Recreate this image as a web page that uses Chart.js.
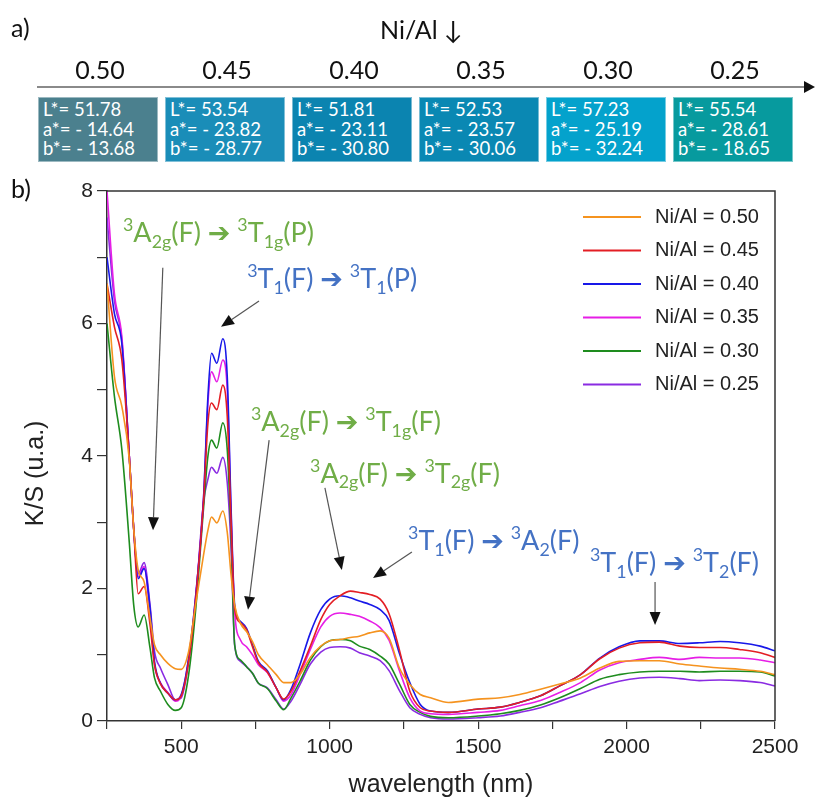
<!DOCTYPE html>
<html>
<head>
<meta charset="utf-8">
<script src="https://cdn.jsdelivr.net/npm/chart.js@4.4.1/dist/chart.umd.min.js"></script>
<style>
  body { margin: 0; background: #fff; width: 815px; height: 805px; position: relative; overflow: hidden; font-family: Lato, sans-serif; }
  #cv { position: absolute; left: 0; top: 0; }
  .t { position: absolute; color: #111; white-space: nowrap; }
  .ratio { position: absolute; top: 54px; width: 120px; text-align: center; font-size: 25px; color: #111; }
  .box { position: absolute; top: 97px; width: 120px; height: 65px; box-sizing: border-box; padding: 2px 0 0 4px;
         color: #fff; font-size: 18.5px; line-height: 19.5px; border: 1px solid rgba(255,255,255,.45); white-space: nowrap; }
  #axl { position: absolute; left: 37px; top: 86px; width: 770px; height: 2px; background: #8a8a8a; }
  #axh { position: absolute; left: 804px; top: 81px; width: 0; height: 0; border-left: 11px solid #111;
         border-top: 6px solid transparent; border-bottom: 6px solid transparent; }
</style>
</head>
<body>
<canvas id="cv" width="815" height="805"></canvas>
<div id="panelA">
  <div class="t" style="left:11px;top:12px;font-size:25px">a)</div>
  <div class="t" style="left:380px;top:14px;font-size:25px">Ni/Al ↓</div>
  <div id="axl"></div><div id="axh"></div>
  <div class="t" style="left:11px;top:173px;font-size:25px">b)</div>
</div>
<script>
/* ---- datos: espectros K/S vs longitud de onda ---- */
const wl = [250, 275, 300, 325, 340, 355, 375, 395, 410, 430, 455, 480, 500, 525, 550, 575, 590, 602, 620, 640,
  655, 668, 680, 700, 720, 740, 760, 790, 820, 845, 870, 900, 935, 970, 1000, 1035, 1070, 1100, 1135, 1170,
  1200, 1235, 1270, 1305, 1340, 1400, 1500, 1575, 1640, 1710, 1775, 1845, 1910, 1975, 2045, 2110, 2180, 2245,
  2315, 2380, 2450, 2500];

const ks050 = [6.6, 5.2, 4.75, 3.95, 2.9, 2.28, 2.1, 1.55, 1.15, 1.0, 0.87, 0.79, 0.78, 1.05, 1.8, 2.5, 2.88, 3.08, 2.99, 3.17,
  2.85, 2.2, 1.75, 1.47, 1.35, 1.2, 1.0, 0.85, 0.7, 0.58, 0.58, 0.7, 0.96, 1.13, 1.21, 1.23, 1.26, 1.28, 1.33, 1.36,
  1.25, 0.8, 0.55, 0.4, 0.35, 0.28, 0.33, 0.35, 0.4, 0.48, 0.56, 0.65, 0.8, 0.9, 0.91, 0.91, 0.86, 0.83, 0.8, 0.78, 0.75, 0.7];
const ks045 = [6.6, 5.95, 5.45, 4.0, 2.9, 1.92, 2.03, 1.45, 0.85, 0.56, 0.42, 0.32, 0.38, 0.9, 1.9, 3.3, 4.5, 4.8, 4.7, 5.07,
  4.6, 3.0, 1.7, 1.48, 1.38, 1.12, 0.88, 0.74, 0.5, 0.33, 0.45, 0.75, 1.13, 1.53, 1.76, 1.89, 1.96, 1.94, 1.91, 1.84,
  1.62, 1.07, 0.45, 0.2, 0.15, 0.13, 0.18, 0.21, 0.28, 0.38, 0.53, 0.7, 0.94, 1.1, 1.18, 1.19, 1.13, 1.11, 1.11, 1.08, 1.03, 0.96];
const ks040 = [7.0, 6.15, 5.7, 4.0, 2.9, 2.15, 2.3, 1.7, 0.9, 0.57, 0.42, 0.32, 0.4, 0.95, 1.95, 3.35, 4.9, 5.55, 5.4, 5.77,
  5.2, 3.2, 1.75, 1.5, 1.4, 1.15, 0.9, 0.76, 0.5, 0.32, 0.48, 0.85, 1.33, 1.68, 1.84, 1.89, 1.86, 1.81, 1.76, 1.68,
  1.52, 1.02, 0.58, 0.25, 0.15, 0.13, 0.18, 0.21, 0.28, 0.38, 0.53, 0.7, 0.95, 1.12, 1.21, 1.21, 1.17, 1.18, 1.2, 1.18, 1.13, 1.06];
const ks035 = [8.0, 6.45, 5.8, 4.0, 2.9, 2.18, 2.33, 1.6, 0.85, 0.58, 0.43, 0.3, 0.38, 0.95, 1.95, 3.35, 4.8, 5.27, 5.12, 5.45,
  5.0, 3.1, 1.65, 1.22, 1.12, 1.0, 0.85, 0.73, 0.5, 0.3, 0.4, 0.7, 1.08, 1.42, 1.58, 1.63, 1.61, 1.58, 1.51, 1.41,
  1.22, 0.76, 0.35, 0.15, 0.11, 0.1, 0.13, 0.16, 0.23, 0.31, 0.43, 0.58, 0.77, 0.88, 0.93, 0.96, 0.93, 0.96, 0.95, 0.95, 0.92, 0.88];
const ks030 = [6.0, 4.9, 4.1, 2.7, 1.75, 1.42, 1.6, 1.1, 0.65, 0.45, 0.25, 0.16, 0.2, 0.7, 1.75, 3.2, 4.0, 4.24, 4.12, 4.5,
  4.1, 2.8, 1.15, 0.92, 0.82, 0.72, 0.57, 0.49, 0.3, 0.17, 0.35, 0.6, 0.92, 1.12, 1.21, 1.23, 1.21, 1.13, 1.08, 0.98,
  0.86, 0.56, 0.25, 0.13, 0.07, 0.05, 0.075, 0.11, 0.16, 0.24, 0.35, 0.49, 0.63, 0.7, 0.74, 0.75, 0.75, 0.74, 0.75, 0.75, 0.74, 0.68];
const ks025 = [7.6, 6.35, 5.75, 4.0, 2.9, 2.22, 2.39, 1.75, 1.05, 0.8, 0.55, 0.32, 0.35, 0.9, 1.9, 3.3, 3.65, 3.83, 3.74, 3.98,
  3.6, 2.6, 1.15, 0.9, 0.82, 0.72, 0.57, 0.5, 0.32, 0.18, 0.3, 0.55, 0.86, 1.04, 1.11, 1.12, 1.1, 1.03, 0.98, 0.91,
  0.76, 0.46, 0.2, 0.1, 0.05, 0.03, 0.05, 0.075, 0.13, 0.2, 0.3, 0.41, 0.52, 0.6, 0.65, 0.66, 0.64, 0.61, 0.62, 0.61, 0.58, 0.53];

const seriesLabels = ['Ni/Al = 0.50', 'Ni/Al = 0.45', 'Ni/Al = 0.40', 'Ni/Al = 0.35', 'Ni/Al = 0.30', 'Ni/Al = 0.25'];
const seriesColors = ['#f5931f', '#e31e24', '#1818e8', '#e61ee6', '#1e8c1e', '#8a2be2'];
const xTickLabels = [500, 1000, 1500, 2000, 2500];
const yTickLabels = [0, 2, 4, 6, 8];

/* panel a) colorimetría */
const ratioLabels = ['0.50', '0.45', '0.40', '0.35', '0.30', '0.25'];
const Lstar = [51.78, 53.54, 51.81, 52.53, 57.23, 55.54];
const aStar = [-14.64, -23.82, -23.11, -23.57, -25.19, -28.61];
const bStar = [-13.68, -28.77, -30.80, -30.06, -32.24, -18.65];
const boxColors = ['#4b808e', '#1a8db8', '#0b84b0', '#0a88b3', '#04a2cc', '#079a9e'];

const GREEN = '#70ad47', BLUE = '#4472c4';
/* transiciones: texto, posición (nm, K/S), flecha desde → hasta */
const notes = [
  { txt: '^3A_{2g}(F) ➔ ^3T_{1g}(P)', at: [304, 7.23], c: GREEN, from: [438, 6.84], to: [405, 2.88] },
  { txt: '^3T_{1}(F) ➔ ^3T_{1}(P)',   at: [722, 6.54], c: BLUE,  from: [762, 6.34], to: [634, 5.95] },
  { txt: '^3A_{2g}(F) ➔ ^3T_{1g}(F)', at: [735, 4.38], c: GREEN, from: [796, 4.24], to: [725, 1.68] },
  { txt: '^3A_{2g}(F) ➔ ^3T_{2g}(F)', at: [934, 3.60], c: GREEN, from: [984, 3.52], to: [1041, 2.28] },
  { txt: '^3T_{1}(F) ➔ ^3A_{2}(F)',   at: [1264, 2.58], c: BLUE, from: [1277, 2.55], to: [1146, 2.16] },
  { txt: '^3T_{1}(F) ➔ ^3T_{2}(F)',   at: [1877, 2.25], c: BLUE, from: [2096, 2.10], to: [2096, 1.45] },
];

/* ---- panel a) ---- */
const pa = document.getElementById('panelA');
ratioLabels.forEach((r, i) => {
  const left = 38 + i * 127;
  pa.insertAdjacentHTML('beforeend',
    `<div class="ratio" style="left:${left + 2}px">${r}</div>` +
    `<div class="box" style="left:${left}px;background:${boxColors[i]}">L*= ${Lstar[i].toFixed(2)}<br>` +
    `a*= - ${Math.abs(aStar[i]).toFixed(2)}<br>b*= - ${Math.abs(bStar[i]).toFixed(2)}</div>`);
});

/* texto con super/subíndices: ^x  y  _{..} */
function richText(ctx, x, y, txt, size, color) {
  const re = /\^(.)|_\{([^}]*)\}|([^^_]+)/g;
  let m, cx = x;
  ctx.fillStyle = color; ctx.textBaseline = 'alphabetic'; ctx.textAlign = 'left';
  while ((m = re.exec(txt))) {
    let t = m[3], s = size, dy = 0;
    if (m[1]) { t = m[1]; s = size * 0.66; dy = -size * 0.4; }
    if (m[2]) { t = m[2]; s = size * 0.66; dy = size * 0.22; }
    ctx.font = `${s}px Lato, "DejaVu Sans", sans-serif`;
    ctx.fillText(t, cx, y + dy);
    cx += ctx.measureText(t).width;
  }
}
function arrow(ctx, x1, y1, x2, y2) {
  const ang = Math.atan2(y2 - y1, x2 - x1), L = 13, W = 5.5;
  const bx = x2 - L * Math.cos(ang), by = y2 - L * Math.sin(ang);
  ctx.strokeStyle = '#555'; ctx.lineWidth = 1.2;
  ctx.beginPath(); ctx.moveTo(x1, y1); ctx.lineTo(bx, by); ctx.stroke();
  ctx.fillStyle = '#111';
  ctx.beginPath(); ctx.moveTo(x2, y2);
  ctx.lineTo(bx + W * Math.sin(ang), by - W * Math.cos(ang));
  ctx.lineTo(bx - W * Math.sin(ang), by + W * Math.cos(ang));
  ctx.closePath(); ctx.fill();
}

const extras = {
  id: 'extras',
  afterDatasetsDraw(ch) {
    const { ctx, chartArea: a, scales: { x, y } } = ch;
    ctx.save();
    ctx.strokeStyle = '#333'; ctx.lineWidth = 1.5;
    ctx.beginPath(); ctx.moveTo(a.left, a.top); ctx.lineTo(a.right, a.top); ctx.lineTo(a.right, a.bottom); ctx.stroke();
    // leyenda
    ctx.font = '20px "Liberation Sans", Arial, sans-serif'; ctx.textBaseline = 'middle';
    ch.data.datasets.forEach((d, i) => {
      const yy = a.top + 26 + i * 33.5;
      ctx.strokeStyle = d.borderColor; ctx.lineWidth = 2;
      ctx.beginPath(); ctx.moveTo(a.right - 192, yy); ctx.lineTo(a.right - 134, yy); ctx.stroke();
      ctx.fillStyle = '#222'; ctx.fillText(d.label, a.right - 120, yy);
    });
    // transiciones
    notes.forEach(n => {
      richText(ctx, x.getPixelForValue(n.at[0]), y.getPixelForValue(n.at[1]), n.txt, 27, n.c);
      arrow(ctx, x.getPixelForValue(n.from[0]), y.getPixelForValue(n.from[1]),
                 x.getPixelForValue(n.to[0]), y.getPixelForValue(n.to[1]));
    });
    ctx.restore();
  }
};

const allSeries = [ks050, ks045, ks040, ks035, ks030, ks025];
const tickFont = { family: '"Liberation Sans", Arial, sans-serif', size: 21 };

new Chart(document.getElementById('cv'), {
  type: 'line',
  data: {
    datasets: allSeries.map((s, i) => ({
      label: seriesLabels[i],
      data: wl.map((w, j) => ({ x: w, y: s[j] })),
      borderColor: seriesColors[i], borderWidth: 1.6, pointRadius: 0,
      cubicInterpolationMode: 'monotone', fill: false,
    })),
  },
  options: {
    responsive: false, animation: false, events: [],
    layout: { padding: { top: 191, right: 40, left: 0, bottom: 0 } },
    plugins: { legend: { display: false }, tooltip: { enabled: false } },
    scales: {
      x: {
        type: 'linear', min: 250, max: 2500,
        afterFit: s => { s.height = 84; },
        ticks: { stepSize: 250, autoSkip: false, maxRotation: 0, padding: 6, color: '#222', font: tickFont,
                 callback: v => xTickLabels.includes(v) ? String(v) : '' },
        grid: { drawOnChartArea: false, tickLength: 8, color: '#333', lineWidth: 1.2 },
        border: { color: '#333', width: 1.5 },
        title: { display: true, text: 'wavelength (nm)', color: '#222', padding: { top: 0, bottom: 5 },
                 font: { family: '"Liberation Sans", Arial, sans-serif', size: 25 } },
      },
      y: {
        min: 0, max: 8,
        afterFit: s => { s.width = 107; },
        ticks: { stepSize: 1, padding: 4, color: '#222', font: tickFont,
                 callback: v => yTickLabels.includes(v) ? String(v) : '' },
        grid: { drawOnChartArea: false, tickLength: 10, color: '#333', lineWidth: 1.2 },
        border: { color: '#333', width: 1.5 },
        title: { display: true, text: 'K/S (u.a.)     ', color: '#222', padding: { top: 21, bottom: 0 },
                 font: { family: '"Liberation Sans", Arial, sans-serif', size: 25 } },
      },
    },
  },
  plugins: [extras],
});
</script>
</body>
</html>
